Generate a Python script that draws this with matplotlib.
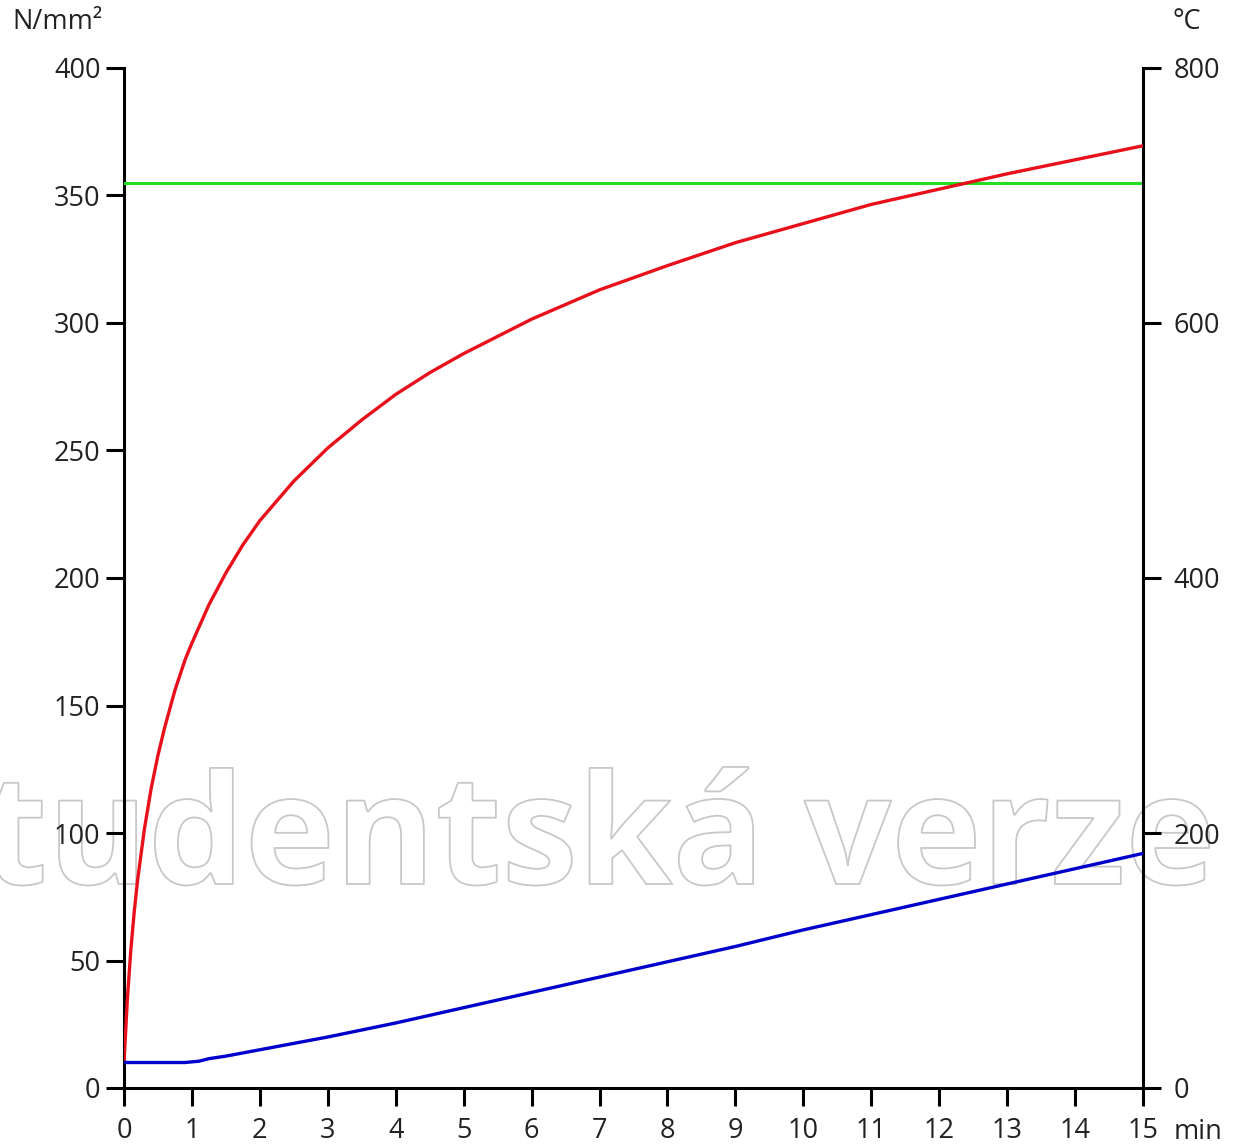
import matplotlib
matplotlib.use("Agg")
import matplotlib.pyplot as plt
import matplotlib.patheffects as pe

plt.rcParams['font.family'] = ['Open Sans', 'DejaVu Sans']

# Time axis (min)
x_ticks = list(range(0, 16))

# Fire (gas) temperature, °C
fire_t = [0, 0.05, 0.1, 0.15, 0.2, 0.3, 0.4, 0.5, 0.6, 0.75, 0.9, 1, 1.25, 1.5, 1.75,
          2, 2.5, 3, 3.5, 4, 4.5, 5, 6, 7, 8, 9, 10, 11, 12, 13, 14, 15]
fire_temp = [20, 70, 108, 138, 163, 203, 235, 261, 283, 312, 336, 349, 379, 404, 426,
             445, 476, 502, 524, 544, 561, 576, 603, 626, 645, 663, 678, 693, 705, 717,
             728, 739]

# Steel temperature, °C
steel_t = [0, 0.5, 0.9, 1.1, 1.25, 1.5, 2, 2.5, 3, 4, 5, 6, 7, 8, 9, 10, 11, 12, 13, 14, 15]
steel_temp = [20, 20, 20, 21, 23, 25, 30, 35, 40, 51, 63, 75, 87, 99, 111, 124, 136, 148,
              160, 172, 184]

# Yield strength, N/mm²
yield_strength = 355

left_ticks = [0, 50, 100, 150, 200, 250, 300, 350, 400]
right_ticks = [0, 200, 400, 600, 800]

W, H = 1237, 1144
fig = plt.figure(figsize=(W / 100, H / 100), dpi=100)
ax1 = fig.add_axes([124 / W, (H - 1088) / H, (1143 - 124) / W, (1088 - 68) / H])
ax2 = ax1.twinx()

ax1.set_xlim(0, 15)
ax1.set_ylim(0, 400)
ax2.set_ylim(0, 800)

ax1.axhline(yield_strength, color='#22dd22', lw=2.2, zorder=3)
ax2.plot(fire_t, fire_temp, color='#e8101a', lw=2.4, solid_joinstyle='round', zorder=3)
ax2.plot(steel_t, steel_temp, color='#0000cc', lw=2.4, solid_joinstyle='round', zorder=3)

text_color = '#222222'
fs = 19.5
ax1.set_xticks(x_ticks)
ax1.set_yticks(left_ticks)
ax2.set_yticks(right_ticks)
ax1.tick_params(axis='x', direction='out', length=13, width=2.2, pad=8,
                labelsize=fs, colors='black', labelcolor=text_color)
ax1.tick_params(axis='y', direction='out', length=13, width=2.2, pad=4,
                labelsize=fs, colors='black', labelcolor=text_color)
ax2.tick_params(axis='y', direction='out', length=13, width=2.2, pad=9,
                labelsize=fs, colors='black', labelcolor=text_color)

for sp in ['top', 'right']:
    ax1.spines[sp].set_visible(False)
for sp in ['top', 'left', 'bottom']:
    ax2.spines[sp].set_visible(False)
for sp in ['left', 'bottom']:
    ax1.spines[sp].set_linewidth(2.2)
ax2.spines['right'].set_linewidth(2.2)

# Axis unit labels
fig.text(12 / W, 1 - 22 / H, 'N/mm²', fontsize=fs, color=text_color, va='center', ha='left')
fig.text(1173 / W, 1 - 22 / H, '°C', fontsize=fs, color=text_color, va='center', ha='left')
ax1.annotate('min', xy=(1, 0), xycoords='axes fraction', xytext=(22, -21.5),
             textcoords='offset points', fontsize=fs, color=text_color,
             va='top', ha='left')

# Outlined watermark behind the curves
ax1.text(1215 / W, 1 - 884 / H, 'Studentská verze', transform=fig.transFigure,
         fontsize=110, fontweight='bold', family=['Open Sans', 'DejaVu Sans'],
         ha='right', va='baseline', color='none', clip_on=False, zorder=1,
         path_effects=[pe.Stroke(linewidth=1.3, foreground='#c8c8c8')])

fig.savefig('out.png', dpi=100, facecolor='white')
